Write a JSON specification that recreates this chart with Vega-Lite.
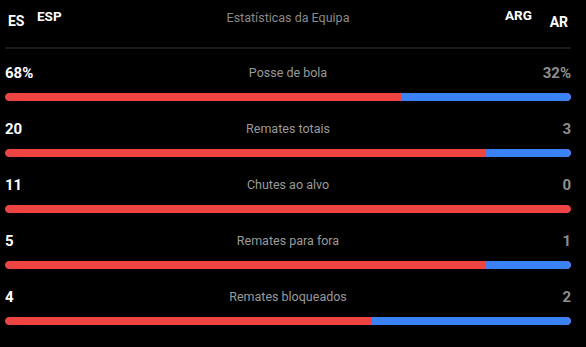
{
  "$schema": "https://vega.github.io/schema/vega-lite/v6.json",
  "width": 586,
  "height": 347,
  "autosize": {"type": "fit", "contains": "padding"},
  "padding": 0,
  "background": "#000000",
  "config": {"view": {"stroke": null}, "font": "Roboto"},
  "data": {
    "values": [
      {"stat": "Posse de bola", "esp": "68%", "arg": "32%", "esp_n": 68, "arg_n": 32, "esp_bar": 70},
      {"stat": "Remates totais", "esp": "20", "arg": "3", "esp_n": 20, "arg_n": 3, "esp_bar": 85},
      {"stat": "Chutes ao alvo", "esp": "11", "arg": "0", "esp_n": 11, "arg_n": 0, "esp_bar": 100},
      {"stat": "Remates para fora", "esp": "5", "arg": "1", "esp_n": 5, "arg_n": 1, "esp_bar": 85},
      {"stat": "Remates bloqueados", "esp": "4", "arg": "2", "esp_n": 4, "arg_n": 2, "esp_bar": 64.8}
    ]
  },
  "encoding": {
    "y": {
      "field": "stat",
      "type": "nominal",
      "scale": {
        "type": "band",
        "domain": ["header", "Posse de bola", "Remates totais", "Chutes ao alvo", "Remates para fora", "Remates bloqueados"],
        "range": [13, 349],
        "paddingInner": 0,
        "paddingOuter": 0
      },
      "axis": null
    }
  },
  "layer": [
    {
      "mark": {"type": "bar", "color": "#ef4444", "height": 8, "cornerRadius": 4},
      "encoding": {
        "x": {"datum": 0, "type": "quantitative", "scale": {"domain": [0, 100], "range": [5, 571]}, "axis": null},
        "x2": {"datum": 100}
      }
    },
    {
      "transform": [{"filter": "datum.esp_bar < 100"}],
      "mark": {"type": "bar", "color": "#3b82f6", "height": 8, "cornerRadiusTopRight": 4, "cornerRadiusBottomRight": 4},
      "encoding": {
        "x": {"field": "esp_bar", "type": "quantitative"},
        "x2": {"datum": 100}
      }
    },
    {
      "mark": {"type": "text", "align": "left", "baseline": "middle", "dy": -24, "fontSize": 15, "fontWeight": "bold", "color": "#ffffff"},
      "encoding": {
        "x": {"datum": 0, "type": "quantitative"},
        "text": {"field": "esp"}
      }
    },
    {
      "mark": {"type": "text", "align": "right", "baseline": "middle", "dy": -24, "fontSize": 15, "fontWeight": "bold"},
      "encoding": {
        "x": {"datum": 100, "type": "quantitative"},
        "text": {"field": "arg"},
        "color": {"condition": {"test": "datum.arg_n > datum.esp_n", "value": "#ffffff"}, "value": "#8e8e8e"}
      }
    },
    {
      "mark": {"type": "text", "align": "center", "baseline": "middle", "dy": -24, "fontSize": 12.5, "color": "#9a9a9a"},
      "encoding": {
        "x": {"datum": 50, "type": "quantitative"},
        "text": {"field": "stat"}
      }
    },
    {
      "data": {"values": [{"line": "header"}]},
      "mark": {"type": "rule", "color": "#333333", "strokeWidth": 1, "yOffset": 7},
      "encoding": {
        "x": {"datum": 0, "type": "quantitative"},
        "x2": {"datum": 100},
        "y": {"datum": "header", "type": "nominal"}
      }
    },
    {
      "data": {"values": [{"label": "Estatísticas da Equipa"}]},
      "mark": {"type": "text", "align": "center", "baseline": "middle", "dy": -23, "fontSize": 12.5, "color": "#8a8a8a"},
      "encoding": {
        "x": {"datum": 50, "type": "quantitative"},
        "y": {"datum": "header", "type": "nominal"},
        "text": {"field": "label"}
      }
    },
    {
      "data": {"values": [{"label": "ES"}]},
      "mark": {"type": "text", "align": "left", "baseline": "middle", "dy": -19, "fontSize": 14, "fontWeight": "bold", "color": "#ffffff"},
      "encoding": {
        "x": {"datum": 0.53, "type": "quantitative"},
        "y": {"datum": "header", "type": "nominal"},
        "text": {"field": "label"}
      }
    },
    {
      "data": {"values": [{"label": "ESP"}]},
      "mark": {"type": "text", "align": "left", "baseline": "middle", "dy": -24, "fontSize": 13.5, "fontWeight": "bold", "color": "#ffffff"},
      "encoding": {
        "x": {"datum": 5.65, "type": "quantitative"},
        "y": {"datum": "header", "type": "nominal"},
        "text": {"field": "label"}
      }
    },
    {
      "data": {"values": [{"label": "ARG"}]},
      "mark": {"type": "text", "align": "right", "baseline": "middle", "dy": -25, "fontSize": 13.5, "fontWeight": "bold", "color": "#ffffff"},
      "encoding": {
        "x": {"datum": 93.1, "type": "quantitative"},
        "y": {"datum": "header", "type": "nominal"},
        "text": {"field": "label"}
      }
    },
    {
      "data": {"values": [{"label": "AR"}]},
      "mark": {"type": "text", "align": "right", "baseline": "middle", "dy": -18, "fontSize": 14, "fontWeight": "bold", "color": "#ffffff"},
      "encoding": {
        "x": {"datum": 99.47, "type": "quantitative"},
        "y": {"datum": "header", "type": "nominal"},
        "text": {"field": "label"}
      }
    }
  ]
}
